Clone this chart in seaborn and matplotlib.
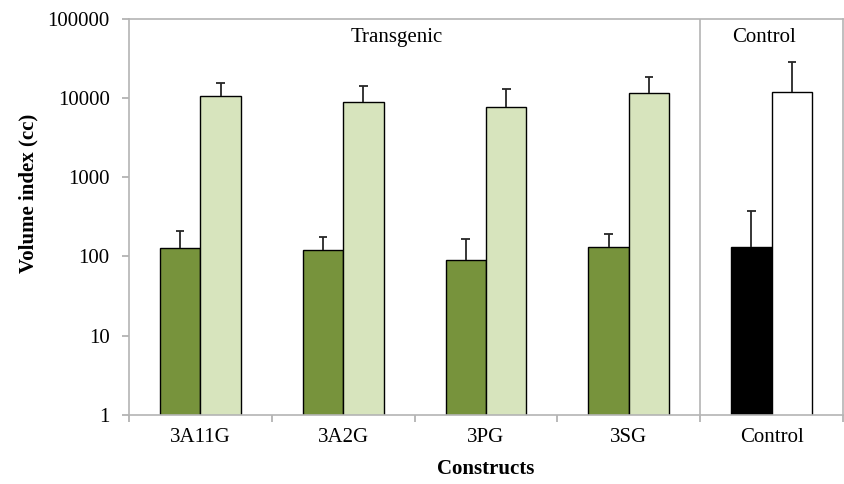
import numpy as np
import pandas as pd
import matplotlib
matplotlib.use("Agg")
import matplotlib.pyplot as plt
import seaborn as sns

# data
constructs = ["3A11G", "3A2G", "3PG", "3SG", "Control"]
series = ["Series A", "Series B"]
values_a = [128, 120, 90, 132, 133]
values_b = [10500, 9060, 7830, 11560, 12100]
err_a = [210, 176, 166, 194, 379]
err_b = [15600, 14400, 13100, 18750, 28500]
y_ticks = [1, 10, 100, 1000, 10000, 100000]

df = pd.DataFrame({
    "construct": constructs * 2,
    "series": [series[0]] * 5 + [series[1]] * 5,
    "value": values_a + values_b,
})

sns.set_theme(style="white")
plt.rcParams["font.family"] = ["Liberation Serif", "DejaVu Serif"]
plt.rcParams["text.color"] = "black"
plt.rcParams["axes.labelcolor"] = "black"

fig = plt.figure(figsize=(8.45, 4.84), dpi=100)
ax = fig.add_axes([129 / 845, 1 - 414.7 / 484, 714 / 845, 395.7 / 484])
ax.set_yscale("log")

sns.barplot(data=df, x="construct", y="value", hue="series",
            order=constructs, hue_order=series,
            palette=["#77933C", "#D7E4BD"], saturation=1,
            width=0.567, gap=0,
            edgecolor="black", linewidth=1.0, errorbar=None,
            legend=False, ax=ax)

# control bars are black / white
bars_a = list(ax.containers[0])
bars_b = list(ax.containers[1])
bars_a[-1].set_facecolor("black")
bars_b[-1].set_facecolor("white")

# upper error bars only (no cap at the bar top)
cap = 0.03
for bars, vals, errs in [(bars_a, values_a, err_a), (bars_b, values_b, err_b)]:
    xs = np.array([b.get_x() + b.get_width() / 2 for b in bars])
    ax.vlines(xs, vals, errs, color="#262626", linewidth=1.3, zorder=3)
    ax.hlines(errs, xs - cap, xs + cap, color="#262626", linewidth=1.3, zorder=3)

ax.set_ylim(1, 100000)
ax.set_xlim(-0.5, 4.5)
ax.set_yticks(y_ticks)
ax.set_yticklabels([str(t) for t in y_ticks])
ax.yaxis.set_minor_locator(matplotlib.ticker.NullLocator())
ax.set_xticks(np.arange(-0.5, 5.0, 1.0), minor=True)
ax.tick_params(axis="x", which="major", length=0, pad=9.5, labelsize=15, labelcolor="black")
ax.tick_params(axis="x", which="minor", length=5, width=1.1, color="#A6A6A6", direction="out", bottom=True)
ax.tick_params(axis="y", which="major", length=5, width=1.1, color="#A6A6A6", direction="out",
               left=True, pad=9, labelsize=15, labelcolor="black")

for s in ax.spines.values():
    s.set_color("#B4B4B4")
    s.set_linewidth(1.2)
    s.set_visible(True)

# separator between transgenic and control
ax.axvline(3.5, color="#B4B4B4", linewidth=1.2)
ax.text(1.377, 58000, "Transgenic", ha="center", va="center", fontsize=15)
ax.text(3.95, 58000, "Control", ha="center", va="center", fontsize=15)

ax.set_xlabel("Constructs", fontsize=15, fontweight="bold")
ax.set_ylabel("Volume index (cc)", fontsize=15, fontweight="bold")
ax.xaxis.set_label_coords(0.5, -0.112)
ax.yaxis.set_label_coords(-0.127, 0.56)

fig.savefig("out.png", dpi=100)
